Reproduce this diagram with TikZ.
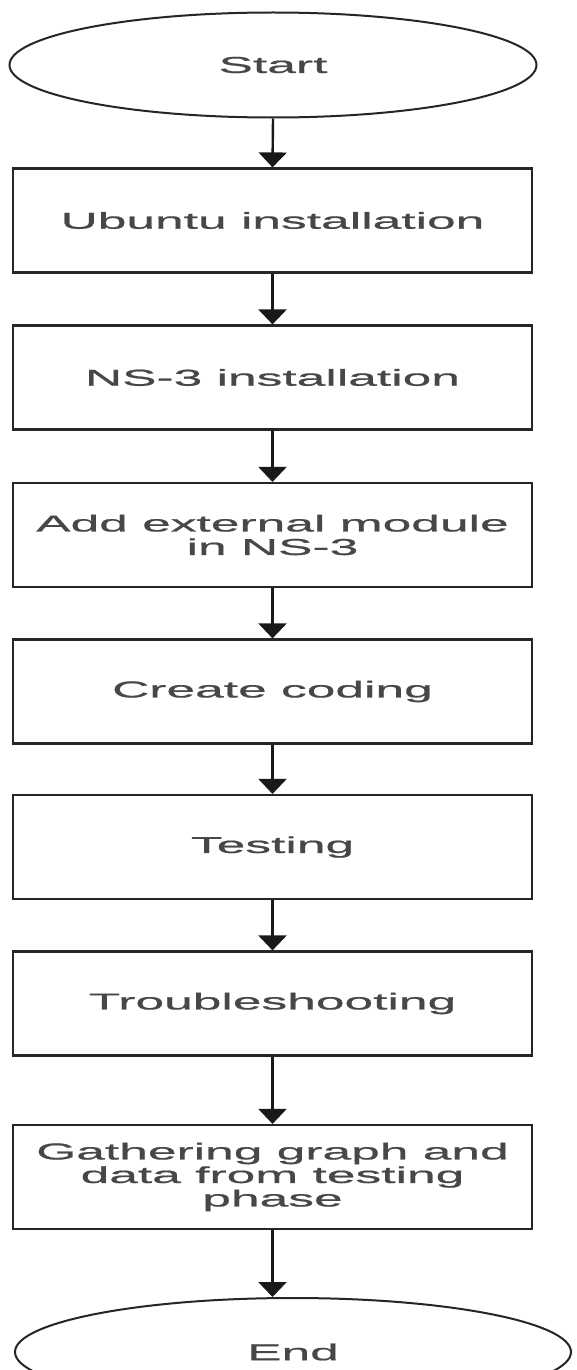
\documentclass[tikz,border=0pt]{standalone}
\usepackage{fontspec}
\setmainfont{Liberation Sans}[FakeStretch=2.24,FakeBold=0.8]
\usetikzlibrary{shapes.geometric,arrows.meta}
\begin{document}
\begin{tikzpicture}[x=1pt,y=-1pt,
  proc/.style={draw=black!85, line width=2.2pt, minimum width=519pt, minimum height=104pt,
    inner sep=0pt, align=center, font=\fontsize{23}{23.5}\selectfont, text=black!72},
  term/.style={draw=black!85, ellipse, line width=2pt, inner sep=0pt, align=center,
    font=\fontsize{23}{23.5}\selectfont, text=black!72},
  arr/.style={draw=black!90, line width=2.4pt, -{Triangle[width=28pt,length=15pt]}}]
\useasboundingbox (0,0) rectangle (576,1370);
\fill[white] (0,0) rectangle (576,1370);
\clip (0,0) rectangle (576,1370);
\node[term, minimum width=527pt, minimum height=105pt] (start) at (273,65) {Start};
\node[proc] (b1) at (272.5,220.5) {Ubuntu installation};
\node[proc] (b2) at (272.5,377.5) {NS-3 installation};
\node[proc] (b3) at (272.5,535) {Add external module\\in NS-3};
\node[proc] (b4) at (272.5,691.5) {Create coding};
\node[proc] (b5) at (272.5,847) {Testing};
\node[proc] (b6) at (272.5,1003.5) {Troubleshooting};
\node[proc] (b7) at (272.5,1177) {Gathering graph and\\data from testing\\phase};
\node[term, minimum width=556pt, minimum height=108pt] (stop) at (293,1352) {End};
\draw[arr] (start.south) -- (b1.north);
\draw[arr] (b1.south) -- (b2.north);
\draw[arr] (b2.south) -- (b3.north);
\draw[arr] (b3.south) -- (b4.north);
\draw[arr] (b4.south) -- (b5.north);
\draw[arr] (b5.south) -- (b6.north);
\draw[arr] (b6.south) -- (b7.north);
\draw[arr] (b7.south) -- (b7.south |- stop.north);
\end{tikzpicture}
\end{document}
